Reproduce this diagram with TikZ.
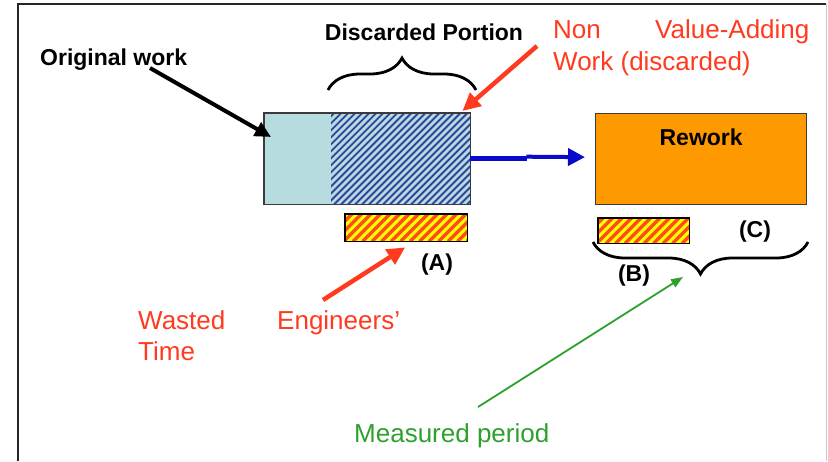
\documentclass[tikz,border=0pt]{standalone}
\usepackage{fontspec}
\setmainfont{Liberation Sans}
\usetikzlibrary{arrows.meta,decorations.pathreplacing,calc}

\definecolor{boxcyan}{HTML}{B7DCE0}
\definecolor{boxedge}{HTML}{3A3A3A}
\definecolor{hatchblue}{HTML}{34449E}
\definecolor{reworkorange}{HTML}{FF9900}
\definecolor{stripeyellow}{HTML}{FFFF00}
\definecolor{stripered}{HTML}{FF4A1A}
\definecolor{labelred}{HTML}{FF3A1E}
\definecolor{labelgreen}{HTML}{2EA02E}
\definecolor{arrowblue}{HTML}{0A0ACC}
\definecolor{framegray}{HTML}{C8C8C8}

\begin{document}
\begin{tikzpicture}[x=1pt,y=-1pt,
  boldlabel/.style={font=\fontsize{23}{26}\selectfont\bfseries, inner sep=0pt},
  redlabel/.style={font=\fontsize{26}{30}\selectfont, text=labelred, inner sep=0pt},
  greenlabel/.style={font=\fontsize{26}{30}\selectfont, text=labelgreen, inner sep=0pt},
  block/.style={rectangle, inner sep=0pt, anchor=north west},
  timebar/.style={block, fill=stripeyellow},
  bracebig/.style={decorate, decoration={brace, amplitude=32pt}, line width=2.8pt},
  blackarrow/.style={line width=4pt, -{Triangle[length=16pt,width=15pt]}},
  redarrow/.style={labelred, line width=4.5pt, -{Triangle[length=18pt,width=17pt]}},
  greenarrow/.style={labelgreen, line width=1.8pt, -{Triangle[length=12pt,width=9pt]}},
  bluearrow/.style={arrowblue, line width=5pt}
]
\useasboundingbox (0,0) rectangle (828,461);

% frame
\draw[framegray, line width=1pt] (826,4) -- (826,461);
\draw[black!85, line width=2.6pt] (18,461) -- (18,4) -- (826,4);

% original work block with the discarded (hatched) part
\node[block, fill=boxcyan, minimum width=206pt, minimum height=91pt] (work) at (264,113) {};
\node[block, minimum width=139pt, minimum height=91pt] (discard) at (331,113) {};
\begin{scope}
  \clip (discard.north west) rectangle (discard.south east);
  \foreach \s in {0,7,...,245}
    \draw[hatchblue, line width=1.9pt] ($(discard.south west)+(\s-95,0)$) -- ++(95,-95);
\end{scope}
\draw[boxedge, line width=1.5pt] (work.north west) rectangle (work.south east);

% rework block
\node[block, draw=boxedge, line width=1.3pt, fill=reworkorange, minimum width=211pt, minimum height=91pt] (rework) at (595,113) {};
\node[boldlabel] (reworklbl) at ($(rework.north)+(0,24)$) {Rework};

% engineers' time bars, yellow with red-orange stripes
\node[timebar, minimum width=122pt, minimum height=27pt] (barA) at (345,214) {};
\node[timebar, minimum width=91pt, minimum height=25pt] (barB) at (598,218) {};
\foreach \bar in {barA,barB} {
  \begin{scope}
    \clip (\bar.north west) rectangle (\bar.south east);
    \foreach \s in {0,9.5,...,160}
      \draw[stripered, line width=3.4pt] ($(\bar.south west)+(\s-30,0)$) -- ++(30,-30);
  \end{scope}
  \draw[black, line width=1.3pt] (\bar.north west) rectangle (\bar.south east);
}

% labels
\node[boldlabel, anchor=base west] (origlbl) at (40,65) {Original work};
\node[boldlabel, anchor=base] (disclbl) at (424,40) {Discarded Portion};
\node[redlabel, anchor=base west] (nonlbl) at (553,38) {Non};
\node[redlabel, anchor=base west] (valuelbl) at (655,38) {Value-Adding};
\node[redlabel, anchor=base west] (worklbl) at (553,70) {Work (discarded)};
\node[redlabel, anchor=base west] (wastedlbl) at (138,329) {Wasted};
\node[redlabel, anchor=base west] (timelbl) at (138,360) {Time};
\node[redlabel, anchor=base west] (englbl) at (277,329) {Engineers’};
\node[greenlabel, anchor=base west] (measlbl) at (354,442) {Measured period};
\node[boldlabel] (albl) at (437,265) {(A)};
\node[boldlabel] (blbl) at (634,276) {(B)};
\node[boldlabel] (clbl) at (755,232) {(C)};

% braces
\draw[bracebig] (328,90) -- (476,90);
\draw[bracebig] (808,242) -- (593,242);
\coordinate (bracetip) at (698,276);

% connectors
\coordinate (origtail) at (150,68);
\draw[blackarrow] (origtail) -- ($(work.north west)+(7,24)$);
\coordinate (nontail) at (537,46);
\draw[redarrow] (nontail) -- ($(discard.north east)+(-8,-2)$);
\coordinate (engtail) at (323,300);
\draw[redarrow] (engtail) -- ($(barA.south)+(-1,6)$);
\coordinate (meastail) at (478,407);
\draw[greenarrow] (meastail) -- ($(bracetip)+(-15,1)$);

% flow into rework
\coordinate (kink) at ($(work.east)+(57,0)$);
\draw[bluearrow] (work.east) -- (kink);
\draw[bluearrow, line width=4pt, -{Triangle[length=17pt,width=17pt]}] ($(kink)+(-1,-2)$) -- ($(rework.west)+(-10,-2)$);
\end{tikzpicture}
\end{document}
